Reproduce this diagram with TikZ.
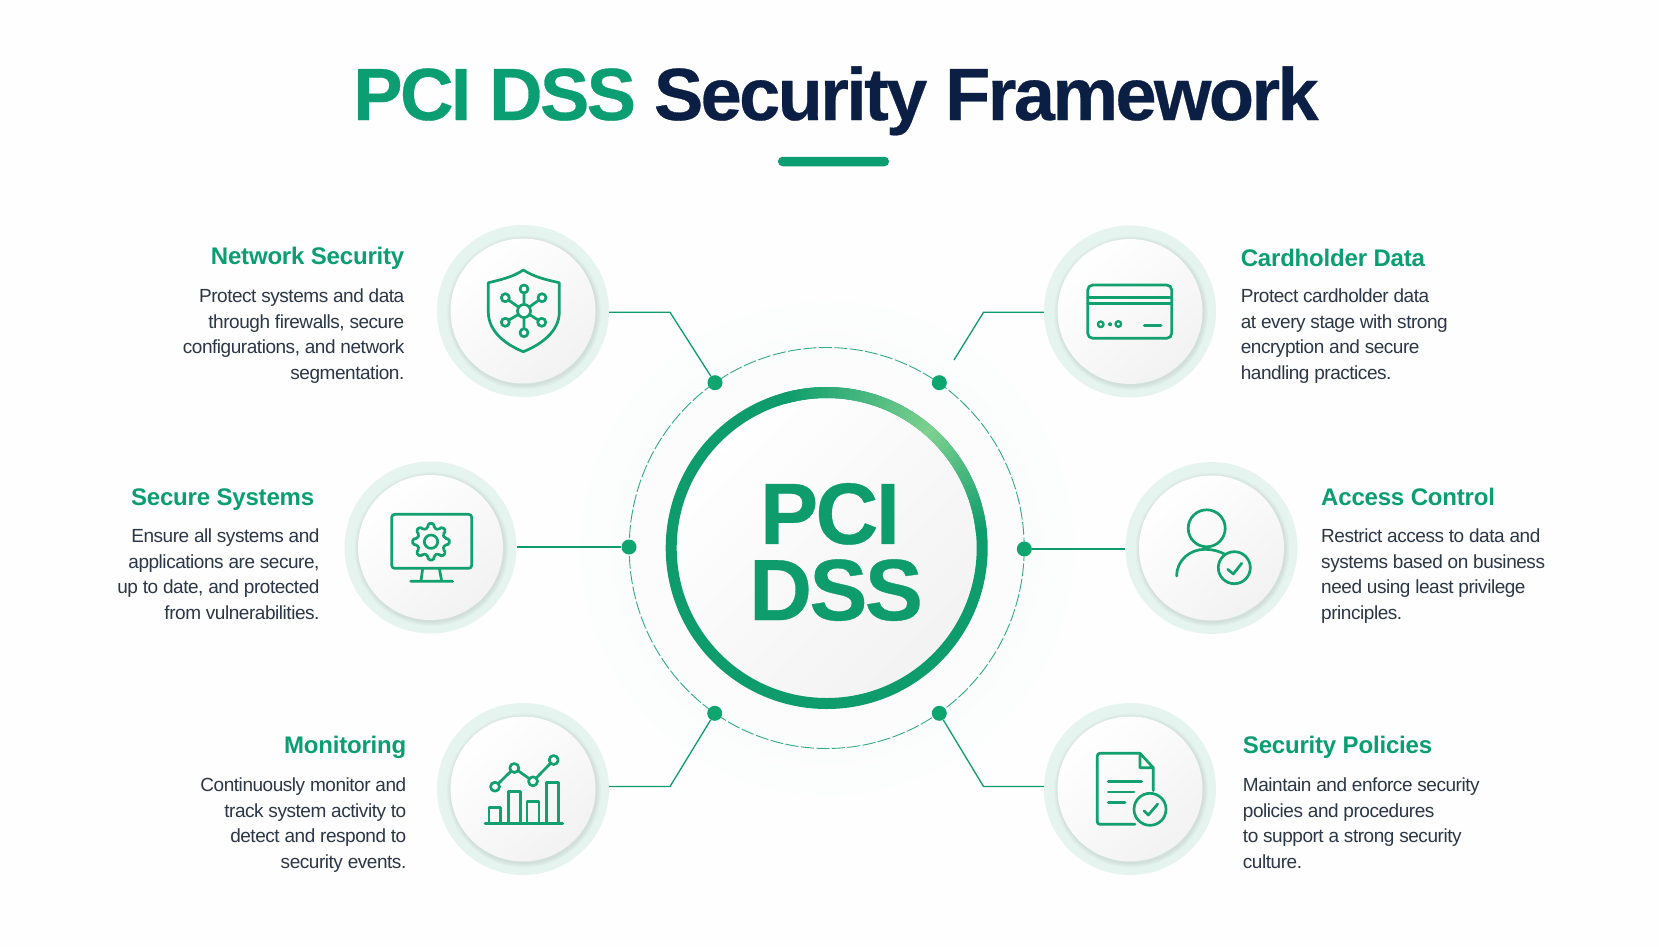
\documentclass[tikz,border=0pt]{standalone}
\usepackage{fontspec}
\setmainfont{Liberation Sans}
\definecolor{gr}{HTML}{0E9C6C}
\definecolor{grlight}{HTML}{7DD28F}
\definecolor{titlegr}{HTML}{0A9E72}
\definecolor{navy}{HTML}{0B1F45}
\definecolor{bodyc}{HTML}{2B3646}
\definecolor{haloc}{HTML}{E6F4EF}
\definecolor{iconc}{HTML}{12A06E}
\definecolor{dotc}{HTML}{0FA56E}
\tikzset{
  halo/.style={circle,fill=haloc,minimum size=172pt,inner sep=0pt},
  disc/.style={circle,minimum size=145pt,inner sep=0pt,top color=white,middle color=white,bottom color=black!5,shading angle=40},
  hubdot/.style={circle,fill=dotc,minimum size=15pt,inner sep=0pt},
  conn/.style={draw=gr,line width=1.3pt},
  icon/.style={draw=iconc,line width=2.7pt,line cap=round,line join=round},
  headtxt/.style={text=titlegr,inner sep=0pt,font=\fontsize{24}{28}\selectfont\bfseries\addfontfeature{LetterSpace=-0.8}},
  bodytxt/.style={text=bodyc,inner sep=0pt,font=\fontsize{19}{25.5}\selectfont\addfontfeature{LetterSpace=-2.4}},
  bigtxt/.style={inner sep=0pt,align=center,text=gr,font=\fontsize{87}{76.2}\selectfont\bfseries\addfontfeature{LetterSpace=-3,FakeBold=0.4}}
}
\newcommand{\softshadow}[2]{%
  \foreach \k in {1,...,5}{\fill[black,opacity=0.016] (#1+1,#2+1.5) circle[radius=72.5+\k*0.9];}%
}
\begin{document}
\begin{tikzpicture}[x=1pt,y=-1pt]
\useasboundingbox (0,0) rectangle (1659,948);
\fill[white!99!gr] (0,0) rectangle (1659,948);
% central glow
\shade[inner color=black!4,outer color=white!99!gr,opacity=.6] (826.7,548) circle[radius=250];
% title
\node[inner sep=0pt,anchor=base,font=\fontsize{74}{80}\selectfont\bfseries\addfontfeature{LetterSpace=-3.6,FakeBold=0.4}] (title) at (836,120) {\textcolor{titlegr}{PCI DSS} \textcolor{navy}{Security Framework}};
\node[fill=titlegr,rounded corners=4.5pt,minimum width=111pt,minimum height=9.5pt,inner sep=0pt] (bar) at (833.5,161.5) {};
% hub
\draw[draw=gr!85!white,line width=.9pt,dash pattern=on 13pt off 2.5pt] (826.7,548) ellipse[x radius=197.5,y radius=200.5];
\foreach \k in {1,...,5}{\fill[black,opacity=0.018] (826.7,548) circle[radius=151+\k];}
\node[circle,minimum size=310pt,inner sep=0pt,top color=white,middle color=white,bottom color=black!5,shading angle=45] (hub) at (826.7,548) {};
\draw[draw=gr,line width=11pt] (hub.center) circle[radius=155.5];
\foreach \a in {6,8,...,104}{
  \pgfmathsetmacro{\p}{\a<48 ? max(0,(\a-6)/42*100) : max(0,(104-\a)/56*100)}
  \pgfmathsetmacro{\xa}{826.7+155.5*cos(\a-0.2)}\pgfmathsetmacro{\ya}{548-155.5*sin(\a-0.2)}
  \pgfmathsetmacro{\xb}{826.7+155.5*cos(\a+2.2)}\pgfmathsetmacro{\yb}{548-155.5*sin(\a+2.2)}
  \draw[draw=grlight!\p!gr,line width=11pt] (\xa,\ya) -- (\xb,\yb);
}
\node[bigtxt] (pcidss) at (836,552) {PCI\hspace*{12pt}\\DSS};
\node[hubdot] (d1) at (715,382.7) {};
\node[hubdot] (d2) at (939.3,382.7) {};
\node[hubdot] (d3) at (629,547) {};
\node[hubdot] (d4) at (1024.3,549) {};
\node[hubdot] (d5) at (714.7,713.3) {};
\node[hubdot] (d6) at (939.3,713.3) {};
% icon circles
\node[halo] (net) at (523,311) {};
\node[halo] (card) at (1130,311.5) {};
\node[halo] (sys) at (430.5,547.5) {};
\node[halo] (acc) at (1211.5,548) {};
\node[halo] (mon) at (523,789) {};
\node[halo] (pol) at (1130,789) {};
\softshadow{523}{311}\softshadow{1130}{311.5}\softshadow{430.5}{547.5}\softshadow{1211.5}{548}\softshadow{523}{789}\softshadow{1130}{789}
\node[disc] (netd) at (net) {};
\node[disc] (cardd) at (card) {};
\node[disc] (sysd) at (sys) {};
\node[disc] (accd) at (acc) {};
\node[disc] (mond) at (mon) {};
\node[disc] (pold) at (pol) {};
% connectors
\coordinate (e1) at (670,312.3);
\coordinate (e2) at (983.5,312.3);
\coordinate (f2) at (954,360);
\coordinate (e5) at (670,786.5);
\coordinate (e6) at (983.5,786.5);
\draw[conn] (net.east |- e1) -- (e1) -- (d1);
\draw[conn] (card.west |- e2) -- (e2) -- (f2);
\draw[conn] (sys.east |- d3) -- (d3);
\draw[conn] (d4) -- (acc.west |- d4);
\draw[conn] (mon.east |- e5) -- (e5) -- (d5);
\draw[conn] (pol.west |- e6) -- (e6) -- (d6);
% shield icon
\draw[icon] (523.3,270) .. controls (534,277) and (547,280) .. (559.3,282.7) -- (559.3,312) .. controls (559.3,332) and (540,345) .. (523.3,351.7) .. controls (506.6,345) and (488.3,332) .. (488.3,312) -- (488.3,282.7) .. controls (500,280) and (513,277) .. (523.3,270) -- cycle;
\draw[icon] (524,311) -- (524,289) (524,311) -- (524,332.7) (524,311) -- (505.3,297.7) (524,311) -- (542,297.7) (524,311) -- (505.3,322.3) (524,311) -- (541.7,322.3);
\draw[icon,fill=white] (524,311) circle[radius=6.5] (524,289) circle[radius=4] (524,332.7) circle[radius=4] (505.3,297.7) circle[radius=4] (542,297.7) circle[radius=4] (505.3,322.3) circle[radius=4] (541.7,322.3) circle[radius=4];
% card icon
\draw[icon,rounded corners=5pt] (1087.7,285) rectangle (1171.7,338.3);
\draw[icon] (1087.7,297.3) -- (1171.7,297.3) (1087.7,303.3) -- (1171.7,303.3) (1144.3,325.7) -- (1161,325.7);
\draw[icon,line width=2.4pt] (1100.7,324.3) circle[radius=2.8] (1110,324.3) circle[radius=1] (1118.3,324) circle[radius=2.8];
% monitor icon
\draw[icon,rounded corners=3pt] (391.7,514.3) rectangle (471.7,568.3);
\draw[icon] (422.7,568.3) -- (421,581) (439.3,568.3) -- (441.7,581) (410.7,581.3) -- (452.7,581.3);
\draw[icon,rounded corners=1.6pt] ([shift={(431,541.7)}]-13:14) \foreach \a in {0,45,...,315}{ -- ([shift={(431,541.7)}]\a-13:14) -- ([shift={(431,541.7)}]\a-9:18.5) -- ([shift={(431,541.7)}]\a+9:18.5) -- ([shift={(431,541.7)}]\a+13:14) } -- cycle;
\draw[icon] (431,541.7) circle[radius=6.7];
% user icon
\draw[icon] (1206.7,528.3) circle[radius=18.5];
\draw[icon] (1176.7,576) .. controls (1176.7,560) and (1190,549.3) .. (1205,549.3) .. controls (1212,549.3) and (1219,551) .. (1225,554.3);
\draw[icon] (1234.3,567.7) circle[radius=16];
\draw[icon] (1227.7,569.3) -- (1233.3,574) -- (1241.7,563.3);
% chart icon
\draw[icon] (485,823.3) -- (562.7,823.3);
\draw[icon,line cap=butt] (489,823.3) -- (489,807.3) -- (500.7,807.3) -- (500.7,823.3);
\draw[icon,line cap=butt] (508.7,823.3) -- (508.7,791.7) -- (520.7,791.7) -- (520.7,823.3);
\draw[icon,line cap=butt] (527,823.3) -- (527,801.7) -- (539,801.7) -- (539,823.3);
\draw[icon,line cap=butt] (546.7,823.3) -- (546.7,782.3) -- (558.7,782.3) -- (558.7,823.3);
\draw[icon] (495,786.7) -- (514.3,768) -- (533,781.3) -- (553.7,760);
\draw[icon,fill=white] (495,786.7) circle[radius=4.5] (514.3,768) circle[radius=4.5] (533,781.3) circle[radius=4.5] (553.7,760) circle[radius=4.5];
% document icon
\draw[icon,rounded corners=2.5pt] (1135,824.3) -- (1097.3,824.3) -- (1097.3,753.3) -- (1140,753.3);
\draw[icon] (1140,753.3) -- (1153.3,767.7) -- (1153.3,790.7) (1140,753.3) -- (1140,767.7) -- (1153.3,767.7);
\draw[icon] (1108.3,781.7) -- (1141.7,781.7) (1108.3,792) -- (1134,792) (1108.3,802.3) -- (1125,802.3);
\draw[icon] (1150,809.3) circle[radius=16];
\draw[icon] (1144,810.7) -- (1148.3,815) -- (1157.7,804);
% texts
\node[headtxt,anchor=base east] (t1) at (404.5,264.6) {Network Security};
\node[bodytxt,anchor=north east,align=right] (b1) at (404.5,288.8) {Protect systems and data\\through firewalls, secure\\configurations, and network\\segmentation.};
\node[headtxt,anchor=base east] (t2) at (314.4,505) {Secure Systems};
\node[bodytxt,anchor=north east,align=right] (b2) at (319.7,529) {Ensure all systems and\\applications are secure,\\up to date, and protected\\from vulnerabilities.};
\node[headtxt,anchor=base east] (t3) at (406.5,753.6) {Monitoring};
\node[bodytxt,anchor=north east,align=right] (b3) at (406.5,777.8) {Continuously monitor and\\track system activity to\\detect and respond to\\security events.};
\node[headtxt,anchor=base west] (t4) at (1240.6,266.7) {Cardholder Data};
\node[bodytxt,anchor=north west,align=left] (b4) at (1240.6,288.8) {Protect cardholder data\\at every stage with strong\\encryption and secure\\handling practices.};
\node[headtxt,anchor=base west] (t5) at (1321,505) {Access Control};
\node[bodytxt,anchor=north west,align=left] (b5) at (1321,529) {Restrict access to data and\\systems based on business\\need using least privilege\\principles.};
\node[headtxt,anchor=base west] (t6) at (1242.7,753.6) {Security Policies};
\node[bodytxt,anchor=north west,align=left] (b6) at (1242.7,777.8) {Maintain and enforce security\\policies and procedures\\to support a strong security\\culture.};
\end{tikzpicture}
\end{document}
